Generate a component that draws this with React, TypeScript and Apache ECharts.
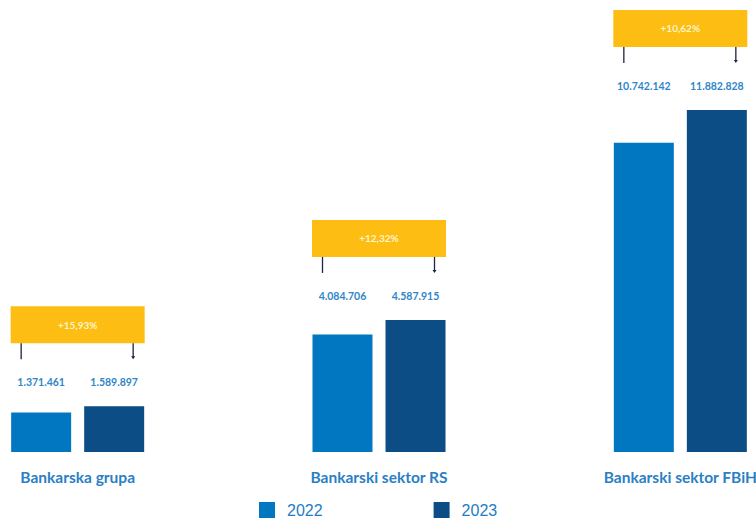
import React, { useEffect, useRef } from "react";
import * as echarts from "echarts";

const categories = ["Bankarska grupa", "Bankarski sektor RS", "Bankarski sektor FBiH"];
const values2022 = [1371461, 4084706, 10742142];
const values2023 = [1589897, 4587915, 11882828];
const growthLabels = ["+15,93%", "+12,32%", "+10,62%"];
const seriesNames = ["2022", "2023"];

const COLOR_2022 = "#0077c0";
const COLOR_2023 = "#0c4d85";
const YELLOW = "#fdbd12";
const LABEL_BLUE = "#2f86c8";
const LINE_COLOR = "#1a2447";
const FONT = "Lato, 'Noto Sans', sans-serif";

const fmt = (n: number) => String(n).replace(/\B(?=(\d{3})+(?!\d))/g, ".");

export default function App() {
  const ref = useRef<HTMLDivElement>(null);
  useEffect(() => {
    if (!ref.current) return;
    const chart = echarts.init(ref.current, null, { renderer: "svg" });
    const half = 36.5;
    const option: any = {
      animation: false,
      grid: {
        left: -73,
        right: -75,
        top: 49,
        bottom: 68,
        containLabel: false,
        outerBoundsMode: "none",
      },
      legend: {
        data: seriesNames,
        left: 254,
        top: 497,
        padding: 5,
        icon: "rect",
        itemWidth: 16,
        itemHeight: 16,
        itemGap: 111,
        textStyle: {
          color: "#1f7cc4",
          fontSize: 16,
          fontFamily: "'Liberation Sans', Arial, sans-serif",
          padding: [0, 0, 0, 7],
        },
      },
      xAxis: {
        type: "category",
        data: categories,
        axisLine: { show: false },
        axisTick: { show: false },
        axisLabel: {
          margin: 17,
          color: "#2a80c5",
          fontSize: 15.5,
          fontWeight: "bold",
          fontFamily: FONT,
          lineHeight: 16,
        },
      },
      yAxis: {
        type: "value",
        min: 0,
        max: 14000000,
        show: false,
        splitLine: { show: false },
      },
      series: [
        {
          name: "2022",
          type: "bar",
          data: values2022,
          barWidth: 60,
          barGap: "21.7%",
          itemStyle: { color: COLOR_2022 },
        },
        {
          name: "2023",
          type: "bar",
          data: values2023,
          barWidth: 60,
          itemStyle: { color: COLOR_2023 },
        },
        {
          name: "annotations",
          type: "custom",
          data: categories.map((_, i) => [i, Math.max(values2022[i], values2023[i])]),
          renderItem: (params: any, api: any) => {
            const i = params.dataIndex;
            const [cx, cy] = api.coord([api.value(0), api.value(1)]);
            const labelY = cy - 24;
            const boxBottom = labelY - 39;
            const boxTop = boxBottom - 37;
            const lx = cx - 56.5;
            const rx = cx + 55.5;
            return {
              type: "group",
              children: [
                {
                  type: "rect",
                  shape: { x: cx - 67, y: boxTop, width: 134, height: 37 },
                  style: { fill: YELLOW },
                },
                {
                  type: "text",
                  style: {
                    text: growthLabels[i],
                    x: cx,
                    y: boxTop + 18.5,
                    textAlign: "center",
                    textVerticalAlign: "middle",
                    fill: "#fff4cc",
                    fontSize: 10,
                    fontWeight: "bold",
                    fontFamily: FONT,
                  },
                },
                {
                  type: "line",
                  shape: { x1: lx, y1: boxBottom, x2: lx, y2: boxBottom + 16 },
                  style: { stroke: LINE_COLOR, lineWidth: 1.3 },
                },
                {
                  type: "line",
                  shape: { x1: rx, y1: boxBottom, x2: rx, y2: boxBottom + 14 },
                  style: { stroke: LINE_COLOR, lineWidth: 1.3 },
                },
                {
                  type: "polygon",
                  shape: { points: [[rx - 2, boxBottom + 13], [rx + 2, boxBottom + 13], [rx, boxBottom + 16]] },
                  style: { fill: LINE_COLOR },
                },
                {
                  type: "text",
                  style: {
                    text: fmt(values2022[i]),
                    x: cx - half,
                    y: labelY,
                    textAlign: "center",
                    textVerticalAlign: "middle",
                    fill: LABEL_BLUE,
                    fontSize: 10.5,
                    fontWeight: "bold",
                    fontFamily: FONT,
                  },
                },
                {
                  type: "text",
                  style: {
                    text: fmt(values2023[i]),
                    x: cx + half,
                    y: labelY,
                    textAlign: "center",
                    textVerticalAlign: "middle",
                    fill: LABEL_BLUE,
                    fontSize: 10.5,
                    fontWeight: "bold",
                    fontFamily: FONT,
                  },
                },
              ],
            };
          },
          z: 5,
        },
      ],
    };
    chart.setOption(option);
    return () => chart.dispose();
  }, []);
  return (
    <div
      ref={ref}
      style={{ position: "absolute", left: 0, top: 0, width: 756, height: 520, background: "#fff" }}
    />
  );
}
